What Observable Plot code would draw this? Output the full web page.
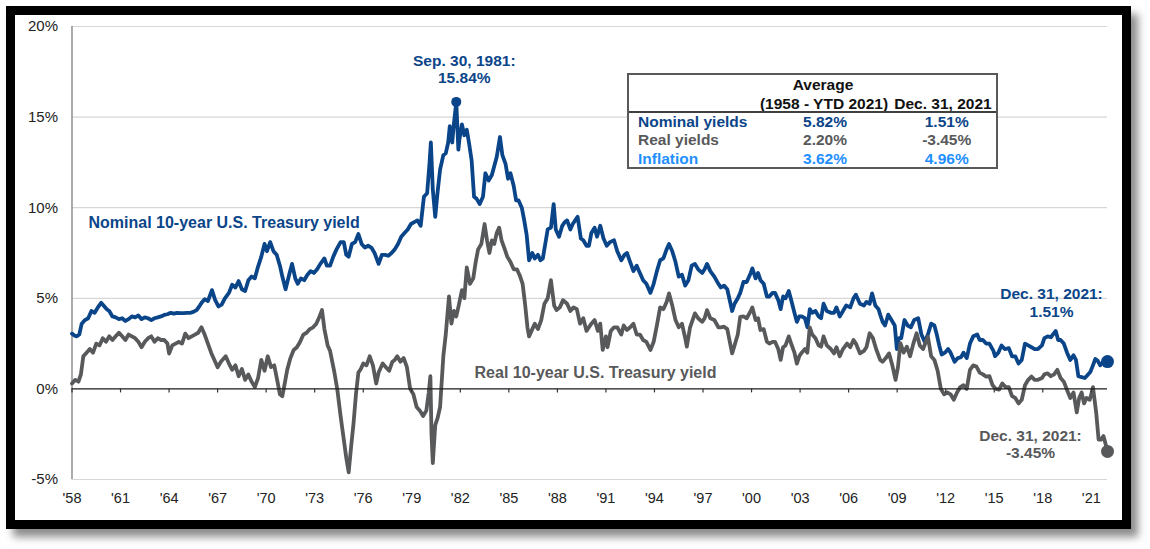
<!DOCTYPE html>
<html>
<head>
<meta charset="utf-8">
<script src="https://cdn.jsdelivr.net/npm/d3@7"></script>
<script src="https://cdn.jsdelivr.net/npm/@observablehq/plot@0.6"></script>
<style>
  body { margin: 0; background: #fff; font-family: "Liberation Sans", Arial, sans-serif; }
  #frame { position: absolute; left: 6px; top: 6px; width: 1107px; height: 505px; border: 9px solid #000; background: #fff; box-shadow: 7px 8px 8px rgba(0,0,0,0.45); }
  #chart { position: absolute; left: 0; top: 0; }
  #table { position: absolute; left: 612px; top: 57.7px; width: 371px; height: 96.6px; box-sizing: border-box; border: 2px solid #595959; background: #fff; font-weight: bold; font-size: 15.5px; }
  #table span { position: absolute; white-space: nowrap; line-height: 1; }
  #table .c { transform: translate(-50%, -50%); }
  #table .l { transform: translate(0, -50%); }
  #table .sep { position: absolute; left: 0; right: 0; top: 36px; height: 0; border-top: 2px solid #404040; }
</style>
</head>
<body>
<div id="frame"><div id="chart"></div><div id="table"></div></div>
<script>
// ---- data (decimal year, percent) ----
const xTicks = [1958, 1961, 1964, 1967, 1970, 1973, 1976, 1979, 1982, 1985, 1988, 1991, 1994, 1997, 2000, 2003, 2006, 2009, 2012, 2015, 2018, 2021];
const yTicks = [-5, 0, 5, 10, 15, 20];
const gridTicks = [-5, 5, 10, 15, 20];

const nominal = [
[1958.0,3.05],[1958.15,2.95],[1958.3,2.9],[1958.45,3.0],[1958.6,3.6],[1958.8,3.8],
[1959.0,3.9],[1959.2,4.3],[1959.4,4.2],[1959.6,4.5],[1959.8,4.75],[1959.95,4.6],
[1960.15,4.4],[1960.3,4.3],[1960.5,4.0],[1960.7,3.95],[1960.9,3.85],
[1961.1,3.9],[1961.3,3.75],[1961.5,3.85],[1961.7,4.0],[1961.9,3.95],
[1962.1,4.05],[1962.3,3.85],[1962.5,3.95],[1962.7,3.9],[1962.9,3.8],
[1963.1,3.9],[1963.3,3.95],[1963.5,4.0],[1963.7,4.08],[1963.9,4.12],
[1964.1,4.2],[1964.3,4.15],[1964.5,4.2],[1964.7,4.18],[1964.9,4.18],
[1965.1,4.2],[1965.3,4.2],[1965.5,4.25],[1965.7,4.35],[1965.9,4.6],
[1966.05,4.8],[1966.2,4.95],[1966.4,4.85],[1966.65,5.45],[1966.85,4.9],
[1967.05,4.55],[1967.25,4.65],[1967.45,5.0],[1967.7,5.3],[1967.9,5.75],
[1968.1,5.6],[1968.3,5.95],[1968.5,5.5],[1968.7,5.4],[1968.9,6.0],
[1969.1,6.2],[1969.3,6.1],[1969.5,6.75],[1969.7,7.3],[1969.9,8.0],
[1970.05,7.6],[1970.25,8.1],[1970.45,7.6],[1970.65,7.4],[1970.85,6.8],
[1971.0,6.2],[1971.2,5.5],[1971.45,6.4],[1971.6,6.9],[1971.8,6.1],[1971.95,5.8],
[1972.15,6.1],[1972.35,6.0],[1972.55,6.3],[1972.75,6.5],[1972.95,6.4],
[1973.15,6.6],[1973.35,6.9],[1973.6,7.2],[1973.75,6.8],[1973.95,6.8],
[1974.15,7.3],[1974.35,7.7],[1974.6,8.1],[1974.8,8.1],[1974.95,7.4],
[1975.1,7.3],[1975.3,8.0],[1975.5,8.1],[1975.7,8.55],[1975.9,8.0],
[1976.1,7.8],[1976.3,7.9],[1976.5,7.8],[1976.7,7.5],[1976.95,6.9],
[1977.15,7.4],[1977.35,7.4],[1977.55,7.35],[1977.75,7.5],[1977.95,7.7],
[1978.15,8.0],[1978.35,8.4],[1978.55,8.6],[1978.75,8.8],[1978.95,9.1],
[1979.15,9.2],[1979.35,9.3],[1979.55,9.0],[1979.75,10.6],[1979.95,10.8],
[1980.1,12.5],[1980.18,13.6],[1980.3,11.0],[1980.45,9.5],[1980.6,10.9],[1980.75,12.1],[1980.95,12.9],
[1981.1,13.0],[1981.25,13.6],[1981.35,14.5],[1981.5,13.6],[1981.6,14.6],[1981.75,15.84],[1981.88,13.2],[1981.95,13.8],
[1982.1,14.6],[1982.25,14.0],[1982.4,14.3],[1982.55,13.5],[1982.7,12.6],[1982.85,10.6],
[1983.0,10.5],[1983.2,10.2],[1983.4,10.6],[1983.55,11.9],[1983.75,11.5],[1983.95,11.8],
[1984.1,12.3],[1984.25,12.8],[1984.45,13.9],[1984.6,12.9],[1984.8,12.4],[1984.95,11.6],
[1985.1,11.9],[1985.3,11.2],[1985.45,10.4],[1985.6,10.4],[1985.8,10.0],[1985.95,9.3],
[1986.1,8.5],[1986.25,7.1],[1986.45,7.5],[1986.6,7.2],[1986.8,7.4],[1986.95,7.1],
[1987.1,7.2],[1987.25,8.0],[1987.4,8.8],[1987.6,8.9],[1987.77,10.2],[1987.9,8.8],
[1988.1,8.4],[1988.3,9.0],[1988.45,9.2],[1988.6,9.3],[1988.8,8.8],[1988.95,9.1],
[1989.1,9.3],[1989.25,9.5],[1989.45,8.3],[1989.6,8.2],[1989.8,7.9],[1989.95,7.9],
[1990.1,8.6],[1990.3,8.9],[1990.45,8.4],[1990.65,9.0],[1990.85,8.3],
[1991.05,7.9],[1991.25,8.1],[1991.5,8.2],[1991.7,7.6],[1991.95,7.1],
[1992.15,7.4],[1992.3,7.5],[1992.5,7.0],[1992.7,6.5],[1992.9,6.8],
[1993.1,6.4],[1993.3,6.0],[1993.5,5.8],[1993.75,5.3],[1993.95,5.8],
[1994.15,6.5],[1994.35,7.1],[1994.55,7.2],[1994.75,7.7],[1994.9,8.0],
[1995.1,7.6],[1995.3,7.0],[1995.5,6.2],[1995.7,6.3],[1995.9,5.7],
[1996.1,6.0],[1996.3,6.8],[1996.5,6.9],[1996.7,6.6],[1996.95,6.4],
[1997.1,6.6],[1997.25,6.9],[1997.45,6.5],[1997.7,6.2],[1997.95,5.8],
[1998.1,5.6],[1998.3,5.7],[1998.5,5.5],[1998.7,4.7],[1998.8,4.3],[1998.95,4.7],
[1999.15,5.0],[1999.3,5.3],[1999.5,5.9],[1999.7,5.9],[1999.95,6.4],
[2000.05,6.65],[2000.25,6.1],[2000.4,6.4],[2000.55,6.0],[2000.75,5.8],[2000.95,5.1],
[2001.1,5.1],[2001.3,5.3],[2001.45,5.3],[2001.65,4.9],[2001.8,4.4],[2001.95,5.1],
[2002.1,5.0],[2002.3,5.4],[2002.45,4.9],[2002.65,4.2],[2002.8,3.7],[2002.95,4.0],
[2003.1,4.0],[2003.3,3.9],[2003.45,3.4],[2003.6,4.4],[2003.75,4.2],[2003.95,4.3],
[2004.15,4.0],[2004.3,3.9],[2004.45,4.7],[2004.65,4.3],[2004.9,4.2],
[2005.1,4.2],[2005.25,4.5],[2005.45,4.0],[2005.65,4.3],[2005.85,4.6],
[2006.1,4.5],[2006.3,5.0],[2006.45,5.2],[2006.7,4.7],[2006.95,4.6],
[2007.1,4.8],[2007.3,4.7],[2007.45,5.27],[2007.65,4.6],[2007.85,4.4],[2007.95,4.1],
[2008.1,3.7],[2008.25,3.5],[2008.45,4.1],[2008.65,3.8],[2008.85,3.5],[2008.98,2.2],
[2009.1,2.8],[2009.25,2.8],[2009.45,3.8],[2009.65,3.5],[2009.85,3.4],
[2010.05,3.8],[2010.3,3.9],[2010.5,3.0],[2010.7,2.6],[2010.9,3.0],
[2011.1,3.6],[2011.3,3.5],[2011.45,3.0],[2011.6,2.4],[2011.75,1.9],[2011.95,2.0],
[2012.15,2.2],[2012.3,2.0],[2012.55,1.5],[2012.75,1.7],[2012.95,1.75],
[2013.1,2.0],[2013.3,1.7],[2013.5,2.5],[2013.7,2.9],[2013.95,3.0],
[2014.1,2.7],[2014.3,2.7],[2014.5,2.5],[2014.7,2.5],[2014.95,2.1],
[2015.05,1.8],[2015.25,2.0],[2015.45,2.4],[2015.65,2.2],[2015.9,2.25],
[2016.1,1.8],[2016.3,1.8],[2016.5,1.4],[2016.7,1.6],[2016.9,2.5],
[2017.1,2.4],[2017.3,2.3],[2017.5,2.2],[2017.7,2.2],[2017.95,2.4],
[2018.1,2.8],[2018.3,2.9],[2018.5,2.85],[2018.8,3.2],[2018.95,2.7],
[2019.1,2.7],[2019.3,2.5],[2019.5,2.0],[2019.7,1.6],[2019.9,1.85],
[2020.05,1.6],[2020.2,0.7],[2020.4,0.65],[2020.6,0.6],[2020.8,0.8],[2020.95,0.95],
[2021.1,1.3],[2021.25,1.65],[2021.4,1.55],[2021.55,1.3],[2021.75,1.5],[2021.9,1.45],[2022.0,1.51]
];

const real = [
[1958.0,0.3],[1958.2,0.5],[1958.4,0.4],[1958.55,0.8],[1958.7,1.8],[1958.9,2.0],
[1959.1,2.2],[1959.3,2.0],[1959.5,2.5],[1959.7,2.4],[1959.9,2.8],
[1960.1,2.6],[1960.3,2.9],[1960.5,2.7],[1960.7,2.9],[1960.9,3.1],
[1961.1,2.9],[1961.3,2.7],[1961.5,3.0],[1961.7,2.9],[1961.9,2.8],
[1962.1,2.6],[1962.3,2.3],[1962.5,2.6],[1962.7,2.8],[1962.9,2.9],
[1963.1,2.6],[1963.3,2.8],[1963.5,2.7],[1963.7,2.7],[1963.9,2.5],
[1964.0,1.95],[1964.2,2.4],[1964.4,2.5],[1964.6,2.6],[1964.8,2.5],
[1965.0,3.05],[1965.2,2.8],[1965.4,2.9],[1965.6,3.0],[1965.8,3.1],
[1966.0,3.4],[1966.2,3.0],[1966.4,2.5],[1966.6,2.0],[1966.8,1.6],
[1967.0,1.2],[1967.2,1.5],[1967.5,1.8],[1967.7,1.4],[1967.9,1.05],
[1968.1,1.3],[1968.3,0.7],[1968.5,1.1],[1968.7,0.5],[1968.9,0.8],
[1969.1,0.4],[1969.3,0.1],[1969.5,0.6],[1969.7,1.6],[1969.9,1.0],
[1970.1,1.8],[1970.3,1.2],[1970.5,1.3],[1970.7,0.4],[1970.85,-0.3],
[1971.0,-0.4],[1971.15,0.3],[1971.3,1.05],[1971.5,1.7],[1971.7,2.15],[1971.9,2.3],
[1972.1,2.6],[1972.3,3.0],[1972.5,3.1],[1972.7,3.3],[1972.9,3.4],
[1973.1,3.6],[1973.3,4.0],[1973.45,4.35],[1973.6,3.3],[1973.8,2.4],[1973.95,2.1],
[1974.2,1.0],[1974.4,-0.05],[1974.6,-1.5],[1974.8,-2.8],[1974.95,-3.8],
[1975.1,-4.6],[1975.25,-3.2],[1975.4,-1.9],[1975.55,-0.3],[1975.7,0.9],[1975.85,1.1],
[1976.0,1.4],[1976.2,1.3],[1976.4,1.8],[1976.6,1.3],[1976.8,0.3],[1976.95,0.9],
[1977.2,1.4],[1977.4,1.2],[1977.6,1.0],[1977.8,1.5],[1977.95,1.6],
[1978.1,1.8],[1978.3,1.5],[1978.5,1.7],[1978.7,1.2],[1978.9,0.0],
[1979.1,-0.3],[1979.3,-1.0],[1979.5,-1.2],[1979.7,-1.5],[1979.9,-1.2],
[1980.05,-0.2],[1980.15,0.7],[1980.22,-2.5],[1980.3,-4.1],[1980.45,-2.0],[1980.6,-1.6],[1980.75,-1.0],[1980.95,1.8],
[1981.1,3.0],[1981.3,5.1],[1981.45,3.6],[1981.6,4.3],[1981.75,4.0],[1981.9,4.6],
[1982.1,5.45],[1982.25,5.0],[1982.4,6.7],[1982.6,5.8],[1982.8,6.1],[1982.95,7.0],
[1983.1,7.7],[1983.3,8.0],[1983.5,9.1],[1983.65,8.2],[1983.8,7.5],[1983.95,8.2],
[1984.1,8.0],[1984.25,8.6],[1984.4,8.9],[1984.55,8.2],[1984.75,7.7],[1984.9,7.3],
[1985.1,7.0],[1985.3,6.6],[1985.5,6.6],[1985.7,6.2],[1985.85,5.8],
[1986.0,4.7],[1986.15,3.4],[1986.25,2.9],[1986.45,3.3],[1986.6,3.6],[1986.8,3.3],
[1987.0,3.8],[1987.2,4.7],[1987.4,5.0],[1987.6,6.0],[1987.8,4.6],[1987.95,4.35],
[1988.15,4.5],[1988.35,4.9],[1988.6,4.7],[1988.8,4.3],
[1989.0,4.5],[1989.2,4.4],[1989.4,3.6],[1989.6,3.9],[1989.8,3.2],[1989.95,3.4],
[1990.1,3.6],[1990.3,3.8],[1990.5,3.2],[1990.65,3.6],[1990.8,2.15],
[1991.0,2.9],[1991.1,2.3],[1991.3,3.2],[1991.5,3.4],[1991.7,3.4],[1991.95,3.0],
[1992.1,3.5],[1992.3,3.25],[1992.5,3.4],[1992.7,3.6],[1992.9,3.0],
[1993.1,3.0],[1993.3,2.7],[1993.5,2.6],[1993.75,2.15],[1993.95,2.6],
[1994.15,3.5],[1994.35,4.5],[1994.55,4.4],[1994.75,4.8],[1994.9,5.27],
[1995.1,4.6],[1995.3,3.8],[1995.5,3.4],[1995.7,3.6],[1995.9,2.8],
[1996.0,2.33],[1996.2,3.4],[1996.5,4.17],[1996.7,3.9],[1996.95,3.7],
[1997.1,3.9],[1997.25,4.35],[1997.45,3.9],[1997.7,3.8],[1997.95,3.4],
[1998.1,3.4],[1998.3,3.43],[1998.5,3.3],[1998.7,2.4],[1998.8,1.96],[1998.95,2.4],
[1999.15,3.0],[1999.3,3.98],[1999.5,4.0],[1999.7,3.9],[1999.95,4.3],
[2000.05,4.5],[2000.25,3.8],[2000.4,3.9],[2000.55,3.25],[2000.75,3.3],[2000.95,2.6],
[2001.1,2.5],[2001.3,2.6],[2001.45,2.6],[2001.65,2.2],[2001.8,1.6],[2001.95,2.3],
[2002.1,2.4],[2002.3,2.9],[2002.45,2.5],[2002.65,2.0],[2002.8,1.4],[2002.95,1.8],
[2003.1,2.0],[2003.3,2.2],[2003.45,2.0],[2003.6,3.4],[2003.75,3.0],[2003.95,2.8],
[2004.15,2.4],[2004.3,2.33],[2004.45,2.9],[2004.65,2.4],[2004.9,2.2],
[2005.1,1.96],[2005.25,2.3],[2005.45,1.8],[2005.65,2.2],[2005.9,2.5],
[2006.1,2.3],[2006.3,2.7],[2006.45,2.5],[2006.7,1.96],[2006.95,2.1],
[2007.1,2.3],[2007.3,3.07],[2007.5,2.8],[2007.7,2.2],[2007.95,1.6],
[2008.1,1.5],[2008.3,1.7],[2008.5,1.96],[2008.7,1.3],[2008.9,0.5],
[2009.05,1.2],[2009.2,2.52],[2009.4,2.0],[2009.6,2.33],[2009.8,1.8],
[2010.0,2.5],[2010.2,3.07],[2010.4,2.4],[2010.6,2.2],[2010.9,2.88],
[2011.1,1.8],[2011.3,1.6],[2011.5,1.0],[2011.7,0.0],[2011.9,-0.3],
[2012.1,-0.2],[2012.3,-0.3],[2012.5,-0.6],[2012.7,-0.2],[2012.9,0.1],
[2013.1,0.2],[2013.3,0.0],[2013.5,1.05],[2013.7,1.3],[2013.9,1.23],
[2014.1,0.9],[2014.3,0.8],[2014.5,0.68],[2014.7,0.7],[2014.9,0.2],
[2015.1,0.0],[2015.3,-0.04],[2015.5,0.3],[2015.7,0.1],[2015.9,0.1],
[2016.1,-0.4],[2016.3,-0.5],[2016.5,-0.8],[2016.7,-0.6],[2016.9,0.2],
[2017.1,0.5],[2017.3,0.68],[2017.5,0.5],[2017.7,0.5],[2017.95,0.6],
[2018.1,0.8],[2018.3,0.86],[2018.5,0.7],[2018.7,0.8],[2018.9,1.05],
[2019.1,0.6],[2019.3,0.4],[2019.5,-0.06],[2019.7,-0.5],[2019.9,-0.2],
[2020.1,-1.3],[2020.25,-0.5],[2020.4,-0.2],[2020.55,-0.8],[2020.7,-0.5],[2020.9,-0.6],
[2021.0,-0.3],[2021.1,0.1],[2021.2,-0.6],[2021.3,-1.3],[2021.45,-2.8],[2021.6,-2.8],[2021.75,-2.6],[2021.9,-3.1],[2022.0,-3.45]
];

const peakPoint = [[1981.75, 15.84]];
const endNominal = [[2022.0, 1.51]];
const endReal = [[2022.0, -3.45]];

const tableRowLabels = ["Nominal yields", "Real yields", "Inflation"];
const tableAverage = ["5.82%", "2.20%", "3.62%"];
const tableLatest = ["1.51%", "-3.45%", "4.96%"];

// ---- styles ----
const BLUE = "#0b4589";
const GRAY = "#58595b";
const LIGHTBLUE = "#1f8fff";
const FONT = "'Liberation Sans', Arial, sans-serif";

const chart = Plot.plot({
  width: 1107,
  height: 505,
  marginLeft: 56.5,
  marginRight: 15,
  marginTop: 11,
  marginBottom: 41,
  style: { fontFamily: FONT, fontSize: "14.5px", color: "#222", background: "#fff", overflow: "visible" },
  x: { domain: [1958, 2022] },
  y: { domain: [-5, 20] },
  marks: [
    Plot.ruleY(gridTicks, { stroke: "#d6d6d6", strokeWidth: 1.2 }),
    Plot.ruleX([1958], { stroke: "#7f7f7f", strokeWidth: 1.3 }),
    Plot.axisY({ ticks: yTicks, tickFormat: d => d + "%", tickSize: 0, tickPadding: 14, label: null, fontSize: 15 }),
    Plot.axisX({ ticks: xTicks, tickFormat: d => "'" + String(d).slice(2), tickSize: 0, tickPadding: 13, label: null, fontSize: 14.5 }),
    Plot.line(nominal, { x: d => d[0], y: d => d[1], stroke: BLUE, strokeWidth: 3.8, strokeLinejoin: "round" }),
    Plot.line(real, { x: d => d[0], y: d => d[1], stroke: GRAY, strokeWidth: 3.8, strokeLinejoin: "round" }),
    Plot.ruleY([0], { stroke: "#1a1a1a", strokeWidth: 1.3 }),
    Plot.ruleX(xTicks, { y1: 0, y2: -0.22, stroke: "#333", strokeWidth: 1.2 }),
    Plot.dot(peakPoint, { x: d => d[0], y: d => d[1], r: 5, fill: BLUE }),
    Plot.dot(endNominal, { x: d => d[0], y: d => d[1], r: 6.5, fill: BLUE }),
    Plot.dot(endReal, { x: d => d[0], y: d => d[1], r: 6.5, fill: GRAY }),
    Plot.text(peakPoint, { x: d => d[0], y: d => d[1], text: d => "Sep. 30, 1981:\n" + d[1].toFixed(2) + "%", fill: BLUE, fontWeight: "bold", fontSize: 15.5, lineHeight: 1.1, lineAnchor: "bottom", dy: -19, dx: 8 }),
    Plot.text(endNominal, { x: d => d[0], y: d => d[1], text: d => "Dec. 31, 2021:\n" + d[1].toFixed(2) + "%", fill: BLUE, fontWeight: "bold", fontSize: 15.5, lineHeight: 1.1, lineAnchor: "bottom", dy: -45, dx: -56 }),
    Plot.text(endReal, { x: d => d[0], y: d => d[1], text: d => "Dec. 31, 2021:\n" + d[1].toFixed(2) + "%", fill: GRAY, fontWeight: "bold", fontSize: 15.5, lineHeight: 1.1, lineAnchor: "middle", dy: -7, dx: -77 }),
    Plot.text(["Nominal 10-year U.S. Treasury yield"], { x: 1959.02, y: 9.18, text: d => d, fill: BLUE, fontWeight: "bold", fontSize: 16, textAnchor: "start" }),
    Plot.text(["Real 10-year U.S. Treasury yield"], { x: 1982.88, y: 0.9, text: d => d, fill: GRAY, fontWeight: "bold", fontSize: 16, textAnchor: "start" })
  ]
});
document.getElementById("chart").appendChild(chart);

// ---- summary table ----
const table = document.getElementById("table");
function addSpan(text, x, y, cls, color) {
  const s = document.createElement("span");
  s.textContent = text;
  s.className = cls;
  s.style.left = x + "px";
  s.style.top = y + "px";
  s.style.color = color;
  table.appendChild(s);
}
addSpan("Average", 194, 10.3, "c", "#111");
addSpan("(1958 - YTD 2021)", 195, 29.3, "c", "#111");
addSpan("Dec. 31, 2021", 314, 29.3, "c", "#111");
const sep = document.createElement("div"); sep.className = "sep"; table.appendChild(sep);
const rowColors = [BLUE, GRAY, LIGHTBLUE];
const rowY = [47, 65.6, 84.3];
tableRowLabels.forEach((lab, i) => {
  addSpan(lab, 9, rowY[i], "l", rowColors[i]);
  addSpan(tableAverage[i], 196, rowY[i], "c", rowColors[i]);
  addSpan(tableLatest[i], 317.7, rowY[i], "c", rowColors[i]);
});
</script>
</body>
</html>
